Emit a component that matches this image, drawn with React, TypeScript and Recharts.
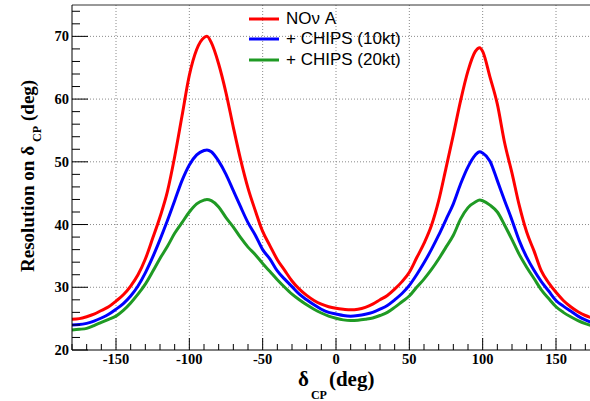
import React from "react";
import { LineChart, Line, XAxis, YAxis, CartesianGrid, ReferenceLine, Legend } from "recharts";

const deltaCP = [-180,-175,-170,-165,-160,-155,-150,-145,-140,-135,-130,-125,-120,-115,-110,-105,-100,-95,-90,-88,-85,-80,-75,-70,-65,-60,-55,-50,-45,-40,-35,-30,-25,-20,-15,-10,-5,0,5,10,15,20,25,30,35,40,45,50,55,60,65,70,75,80,85,90,95,98,100,105,110,115,120,125,130,135,140,145,150,155,160,165,170,175,180];

const nova = [24.9,25.0,25.3,25.7,26.3,26.9,27.8,28.8,30.2,32.0,34.5,37.8,41.2,45.2,50.8,57.3,63.8,67.9,69.8,70.0,69.0,65.6,61.0,55.5,50.3,45.8,42.2,38.9,36.6,34.4,32.7,31.0,29.7,28.7,27.9,27.3,26.9,26.65,26.5,26.4,26.5,26.8,27.3,28.0,28.7,29.7,30.9,32.4,34.7,37.0,39.8,43.8,49.0,54.3,59.8,64.5,67.6,68.2,67.6,63.5,59.2,53.0,48.2,43.0,38.8,35.8,32.6,30.7,29.2,27.9,26.9,26.1,25.5,25.1,24.9];

const chips10 = [24.0,24.05,24.25,24.6,25.1,25.7,26.5,27.4,28.6,30.2,32.3,34.8,37.6,40.6,43.8,47.0,49.5,51.1,51.8,51.9,51.6,50.1,48.0,45.4,42.8,40.3,38.3,36.0,34.5,32.6,31.3,30.1,28.9,28.0,27.2,26.5,26.0,25.75,25.5,25.4,25.5,25.7,26.0,26.5,27.1,28.0,29.0,30.3,32.0,33.9,36.0,38.3,40.8,43.3,46.5,49.2,51.1,51.6,51.4,50.1,47.0,43.8,40.7,37.4,34.8,32.7,30.9,29.4,27.9,27.0,26.2,25.4,24.8,24.3,24.0];

const chips20 = [23.2,23.3,23.45,23.9,24.4,24.9,25.4,26.3,27.5,28.9,30.5,32.5,34.6,36.5,38.6,40.3,42.0,43.3,43.9,44.0,43.8,42.8,41.1,39.6,37.9,36.4,35.2,33.8,32.5,31.2,30.0,28.9,28.0,27.2,26.5,25.9,25.4,25.05,24.8,24.7,24.75,24.9,25.1,25.5,26.0,26.8,27.7,28.6,30.0,31.3,32.8,34.5,36.4,38.3,40.9,42.7,43.6,43.9,43.8,43.1,42.0,39.9,37.6,35.2,33.2,31.4,29.6,28.2,26.9,26.0,25.3,24.7,24.2,23.8,23.3];

const seriesNames = ["NOν A", "+ CHIPS (10kt)", "+ CHIPS (20kt)"];
const seriesColors = ["#ff0000", "#0000ff", "#1f9a24"];

const xTicks: number[] = [];
for (let v = -180; v <= 180; v += 10) xTicks.push(v);
const yTicks: number[] = [];
for (let v = 20; v <= 74; v += 2) yTicks.push(v);
const xGrid = [-150, -100, -50, 0, 50, 100, 150];
const yGrid = [30, 40, 50, 60, 70];

const data = deltaCP.map((x, i) => ({ x, nova: nova[i], c10: chips10[i], c20: chips20[i] }));

const SERIF = '"Liberation Serif", "DejaVu Serif", "Times New Roman", serif';
const SANS = '"Liberation Sans", Arial, sans-serif';
const serifStyle: React.CSSProperties = { fontFamily: SERIF, fontWeight: 700 };

const XTick = (props: any) => {
  const { x, y, payload } = props;
  const v = payload.value;
  const major = v % 50 === 0;
  return (
    <g>
      <line x1={x} x2={x} y1={y} y2={y - (major ? 12 : 6)} stroke="#000" strokeWidth={1} />
      {major && v > -180 && v < 180 ? (
        <text x={x} y={y + 14} textAnchor="middle" style={{ ...serifStyle, fontSize: 14.5 }} fill="#000">
          {v}
        </text>
      ) : null}
    </g>
  );
};

const YTick = (props: any) => {
  const { x, y, payload } = props;
  const v = payload.value;
  const major = v % 10 === 0;
  return (
    <g>
      <line x1={x} x2={x + (major ? 16 : 8)} y1={y} y2={y} stroke="#000" strokeWidth={1} />
      {major ? (
        <text x={x - 3} y={y + 5} textAnchor="end" style={{ ...serifStyle, fontSize: 14.5 }} fill="#000">
          {v}
        </text>
      ) : null}
    </g>
  );
};

const YTitle = () => (
  <text transform="rotate(-90 34 272)" x={34} y={272} style={{ ...serifStyle, fontSize: 19 }} fill="#000">
    Resolution on δ
    <tspan style={{ fontSize: 12 }} dx={4} dy={7}>CP</tspan>
    <tspan dx={5} dy={-7}>(deg)</tspan>
  </text>
);

const XTitle = () => (
  <text x={298} y={386} style={{ ...serifStyle, fontSize: 21 }} fill="#000">
    δ
    <tspan style={{ fontSize: 12 }} dx={2} dy={13}>CP</tspan>
    <tspan dx={2} dy={-13}>(deg)</tspan>
  </text>
);

const LegendContent = (props: any) => {
  const payload = [...(props.payload || [])].sort(
    (a: any, b: any) => seriesNames.indexOf(a.value) - seriesNames.indexOf(b.value)
  );
  return (
    <div style={{ position: "relative", width: 200, height: 64, fontFamily: SANS, fontSize: 17, color: "#000" }}>
      {payload.map((p: any, i: number) => (
        <div key={i} style={{ position: "absolute", left: 0, top: i * 20.4, height: 20, display: "flex", alignItems: "center", whiteSpace: "nowrap" }}>
          <svg width={30} height={4} style={{ display: "block" }}>
            <line x1={0} x2={30} y1={2} y2={2} stroke={p.color} strokeWidth={3} />
          </svg>
          <span style={{ marginLeft: 7, lineHeight: "20px" }}>{p.value}</span>
        </div>
      ))}
    </div>
  );
};

export default function App() {
  return (
    <div style={{ position: "absolute", left: 0, top: 0, width: 590, height: 401, overflow: "hidden", background: "#fff" }}>
      <LineChart width={600} height={401} data={data} margin={{ top: 5, right: 0, left: 0, bottom: 0 }}>
        <CartesianGrid
          horizontalValues={yGrid}
          verticalValues={xGrid}
          stroke="#8a8a8a"
          strokeDasharray="1 2"
        />
        <XAxis
          dataKey="x"
          type="number"
          domain={[-180, 180]}
          ticks={xTicks}
          interval={0}
          tickSize={0}
          tickMargin={0}
          tickLine={false}
          tick={<XTick />}
          axisLine={{ stroke: "#000", strokeWidth: 1 }}
          height={51}
          label={<XTitle />}
        />
        <YAxis
          type="number"
          domain={[20, 75]}
          ticks={yTicks}
          interval={0}
          tickSize={0}
          tickMargin={0}
          tickLine={false}
          tick={<YTick />}
          axisLine={{ stroke: "#000", strokeWidth: 1 }}
          width={72}
          label={<YTitle />}
        />
        <ReferenceLine y={75} stroke="#333" strokeWidth={1} />
        <ReferenceLine x={180} stroke="#333" strokeWidth={1} />
        <Legend
          layout="vertical"
          align="center"
          verticalAlign="middle"
          wrapperStyle={{ top: 9, left: 249, width: 200, height: 64 }}
          content={<LegendContent />}
        />
        <Line type="monotone" dataKey="nova" name={seriesNames[0]} stroke={seriesColors[0]} strokeWidth={3} dot={false} isAnimationActive={false} />
        <Line type="monotone" dataKey="c10" name={seriesNames[1]} stroke={seriesColors[1]} strokeWidth={3} dot={false} isAnimationActive={false} />
        <Line type="monotone" dataKey="c20" name={seriesNames[2]} stroke={seriesColors[2]} strokeWidth={3} dot={false} isAnimationActive={false} />
      </LineChart>
    </div>
  );
}
